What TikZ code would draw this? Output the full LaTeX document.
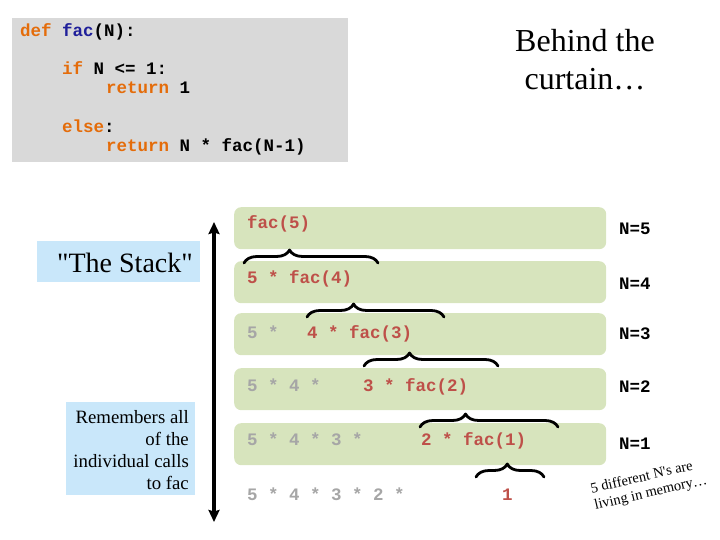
\documentclass[tikz,border=0pt]{standalone}
\usepackage{fontspec}
\setmainfont{Liberation Serif}
\newfontfamily\codefont{Liberation Mono}
\usetikzlibrary{decorations.pathreplacing,arrows.meta}
\definecolor{kwcol}{HTML}{E46C0A}
\definecolor{fncol}{HTML}{1F1F9A}
\definecolor{codebg}{HTML}{D9D9D9}
\definecolor{rowgreen}{HTML}{D7E4BD}
\definecolor{notebg}{HTML}{C9E7FA}
\definecolor{exprred}{HTML}{BE5049}
\definecolor{exprgray}{HTML}{A6A6A6}

\begin{document}
\begin{tikzpicture}[x=1pt,y=-1pt,line cap=round,line join=round,>={Stealth[length=12pt,width=11pt,inset=1.5pt]},every node/.style={inner sep=0pt},
  code/.style={font=\codefont\bfseries\fontsize{17.5}{20}\selectfont,anchor=base west},
  rowbox/.style={fill=rowgreen,rounded corners=7pt,minimum width=372pt,minimum height=42pt,anchor=north west},
  brc/.style={decorate,decoration={brace,amplitude=13pt,aspect=#1},line width=2.8pt}]
  \useasboundingbox (0,0) rectangle (720,540);
  \def\kw#1{\textcolor{kwcol}{#1}}
  \def\fn#1{\textcolor{fncol}{#1}}
  % the code
  \fill[codebg] (12,18) rectangle (348,162);
  \node[code] (l1) at (20,37) {\kw{def} \fn{fac}(N):};
  \node[code] (l2) at (62,75) {\kw{if} N <= 1:};
  \node[code] (l3) at (106,94) {\kw{return} 1};
  \node[code] (l4) at (62,133) {\kw{else}:};
  \node[code] (l5) at (106,152) {\kw{return} N * fac(N-1)};
  \node[align=center,font=\fontsize{32}{38}\selectfont,anchor=base] (title) at (585,90) {Behind the\\curtain…};
  % left notes
  \fill[notebg] (37,241) rectangle (200,282);
  \node[font=\fontsize{28}{32}\selectfont,anchor=base east] (stack) at (193,272) {\textquotedbl The Stack\textquotedbl};
  \fill[notebg] (66,402) rectangle (195,495);
  \node[align=right,font=\fontsize{18.8}{21.7}\selectfont,anchor=base east] (remember) at (189,489) {Remembers all\\of the\\individual calls\\to fac};
  \draw[<->,line width=3.4pt,line cap=butt] (214,222) -- (214,522);
  % the frames
  \foreach \i/\y in {1/207,2/261,3/313,4/368,5/423}
    \node[rowbox] (row\i) at (234,\y) {};
  \foreach \i/\y in {5/235,4/289,3/339,2/392,1/449}
    \node[code] (n\i) at (619,\y) {N=\i};
  \begin{scope}[every node/.append style={code}]
    \node[exprred] (e1) at (247,229) {fac(5)};
    \node[exprred] (e2) at (247,283) {5 * fac(4)};
    \node[exprgray] (g3) at (247,338) {5 *};
    \node[exprred] (e3) at (307,338) {4 * fac(3)};
    \node[exprgray] (g4) at (247,391) {5 * 4 *};
    \node[exprred] (e4) at (363,391) {3 * fac(2)};
    \node[exprgray] (g5) at (247,445) {5 * 4 * 3 *};
    \node[exprred] (e5) at (421,445) {2 * fac(1)};
    \node[exprgray] (g6) at (247,500) {5 * 4 * 3 * 2 *};
    \node[exprred] (e6) at (502,500) {1};
  \end{scope}
  \foreach \a/\b/\y/\s in {244/378/263/0.34,307/444/317/0.34,364/498/366/0.34,420/558/427/0.33,476/544/477/0.46}
    \draw[brc=\s] (\a,\y) -- (\b,\y);
  \node[rotate=13,align=left,font=\fontsize{14.5}{17}\selectfont] (memo) at (649,485) {5 different N\textquotesingle s are\\living in memory…};
\end{tikzpicture}
\end{document}
